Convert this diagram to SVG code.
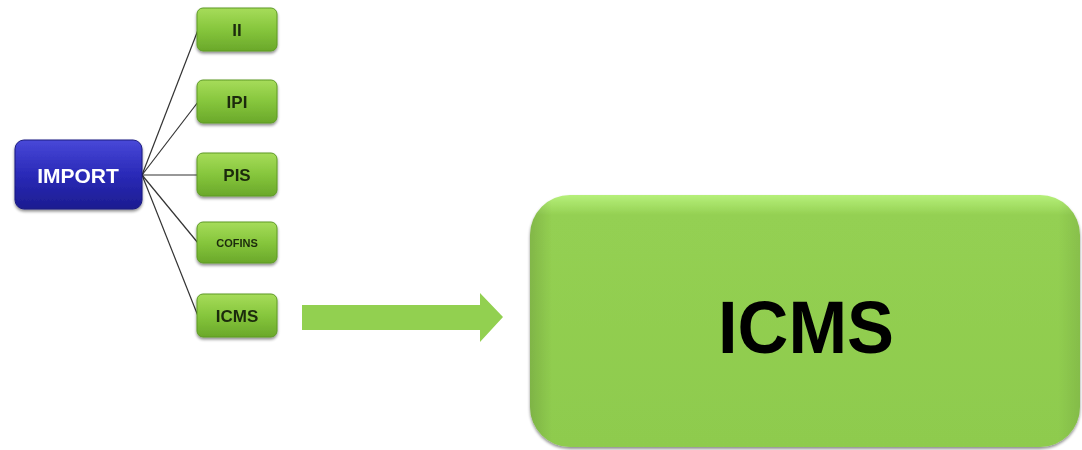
<svg xmlns="http://www.w3.org/2000/svg" width="1082" height="450" viewBox="0 0 1082 450">
<defs>
<linearGradient id="gSmall" x1="0" y1="0" x2="0" y2="1">
<stop offset="0" stop-color="#a6dc5a"/>
<stop offset="0.5" stop-color="#86c63c"/>
<stop offset="1" stop-color="#6aa82a"/>
</linearGradient>
<linearGradient id="gBlue" x1="0" y1="0" x2="0" y2="1">
<stop offset="0" stop-color="#4848d8"/>
<stop offset="0.5" stop-color="#2a2ab8"/>
<stop offset="1" stop-color="#1c1c90"/>
</linearGradient>
<linearGradient id="gBig" x1="0" y1="0" x2="0" y2="1">
<stop offset="0" stop-color="#b6f07a"/>
<stop offset="0.08" stop-color="#94d052"/>
<stop offset="1" stop-color="#8ecb4e"/>
</linearGradient>
<linearGradient id="gBigH" x1="0" y1="0" x2="1" y2="0">
<stop offset="0" stop-color="#000" stop-opacity="0.12"/>
<stop offset="0.04" stop-color="#000" stop-opacity="0"/>
<stop offset="0.96" stop-color="#000" stop-opacity="0"/>
<stop offset="1" stop-color="#000" stop-opacity="0.08"/>
</linearGradient>
<filter id="sh" x="-10%" y="-10%" width="120%" height="130%">
<feGaussianBlur in="SourceAlpha" stdDeviation="1.5"/>
<feOffset dx="0" dy="2" result="b"/>
<feComponentTransfer><feFuncA type="linear" slope="0.45"/></feComponentTransfer>
<feMerge><feMergeNode/><feMergeNode in="SourceGraphic"/></feMerge>
</filter>
</defs>
<style>
.small rect{fill:url(#gSmall);stroke:#5e9a25;stroke-width:1;}
.small text{font-family:"Liberation Sans",Arial,sans-serif;font-weight:bold;font-size:17px;fill:#1b2a0c;text-anchor:middle;}
.conn line{stroke:#333;stroke-width:1.2;}
</style>
<g class="conn" id="connectors">
<line x1="142" y1="175" x2="198" y2="30"/>
<line x1="142" y1="175" x2="198" y2="102"/>
<line x1="142" y1="175" x2="198" y2="175"/>
<line x1="142" y1="175" x2="198" y2="243"/>
<line x1="142" y1="175" x2="198" y2="316"/>
<polygon points="302,305 480,305 480,293 503,317 480,342 480,330 302,330" fill="#92d050"/>
</g>
<g id="import" filter="url(#sh)">
<rect x="15" y="140" width="127" height="69" rx="9" fill="url(#gBlue)" stroke="#1a1a80" stroke-width="1"/>
<text x="78" y="183" font-family="Liberation Sans, Arial, sans-serif" font-weight="bold" font-size="21" fill="#ffffff" text-anchor="middle">IMPORT</text>
</g>
<g id="ii" class="small" filter="url(#sh)">
<rect x="197" y="8" width="80" height="43" rx="6"/>
<text x="237" y="36">II</text>
</g>
<g id="ipi" class="small" filter="url(#sh)">
<rect x="197" y="80" width="80" height="43" rx="6"/>
<text x="237" y="108">IPI</text>
</g>
<g id="pis" class="small" filter="url(#sh)">
<rect x="197" y="153" width="80" height="43" rx="6"/>
<text x="237" y="181">PIS</text>
</g>
<g id="cofins" class="small" filter="url(#sh)">
<rect x="197" y="222" width="80" height="41" rx="6"/>
<text x="237" y="247" style="font-size:11px">COFINS</text>
</g>
<g id="icms-small" class="small" filter="url(#sh)">
<rect x="197" y="294" width="80" height="43" rx="6"/>
<text x="237" y="322">ICMS</text>
</g>
<g id="icms-big" filter="url(#sh)">
<rect x="530" y="195" width="550" height="252" rx="40" fill="url(#gBig)"/>
<rect x="530" y="195" width="550" height="252" rx="40" fill="url(#gBigH)"/>
<text x="806" y="353" font-family="Liberation Sans, Arial, sans-serif" font-weight="bold" font-size="75" fill="#000000" text-anchor="middle" textLength="176" lengthAdjust="spacingAndGlyphs">ICMS</text>
</g>
</svg>
